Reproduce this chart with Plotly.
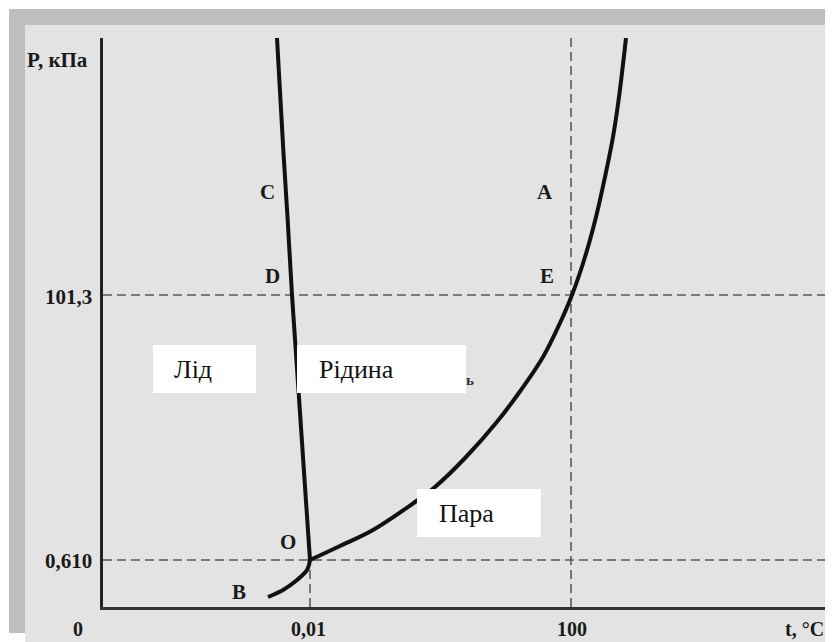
import plotly.graph_objects as go

# Schematic coordinates (axis units; origin at the axes corner)
x_tick_pos = [0, 207, 468]
x_tick_text = ["0", "0,01", "100"]
y_tick_pos = [47, 312]
y_tick_text = ["0,610", "101,3"]

# Melting curve O -> C (ice / liquid)
melt_x = [207, 201, 195, 189, 184.5, 180.3, 174]
melt_y = [47, 135, 224, 312, 390, 457, 569]

# Vaporisation curve O -> A (liquid / vapour)
vap_x = [207, 237, 270, 312, 332, 363, 393, 418, 440, 457, 469, 482, 493, 502, 510, 516, 523]
vap_y = [47, 61, 77, 105, 120, 150, 184, 217, 250, 284, 312, 350, 390, 430, 470, 510, 569]

# Sublimation curve B -> O (ice / vapour)
sub_x = [165, 180, 194, 204, 207]
sub_y = [10, 17, 27, 37, 47]

# Point letters
pt_labels = ["C", "D", "A", "E", "O", "B"]
pt_x = [164, 169, 442, 444, 185, 136]
pt_y = [415, 331, 415, 331, 65, 15]

# Phase region labels
phase_labels = ["Лід", "Рідина", "Пара"]

X_MAX, Y_MAX = 730, 569

# page offset (browser body margin) compensation
OFF = 8
L, T, W, H = 103, 38, 730, 569      # plot area in window pixels
FIG_W, FIG_H = 833 - OFF, 642 - OFF


def px(xp):
    return (xp - L) / W


def py(yp):
    return (T + H - yp) / H


fig = go.Figure()

dash_style = dict(color="#5a5a5a", width=1.6, dash="9px,5px")
fig.add_trace(go.Scatter(x=[0, X_MAX], y=[y_tick_pos[1]] * 2, mode="lines", line=dash_style))
fig.add_trace(go.Scatter(x=[0, X_MAX], y=[y_tick_pos[0]] * 2, mode="lines", line=dash_style))
fig.add_trace(go.Scatter(x=[x_tick_pos[1]] * 2, y=[0, y_tick_pos[0]], mode="lines", line=dash_style))
fig.add_trace(go.Scatter(x=[x_tick_pos[2]] * 2, y=[0, Y_MAX], mode="lines", line=dash_style))

curve_style = dict(color="#111111", width=4, shape="spline", smoothing=1.0)
fig.add_trace(go.Scatter(x=melt_x, y=melt_y, mode="lines", line=curve_style))
fig.add_trace(go.Scatter(x=vap_x, y=vap_y, mode="lines", line=curve_style))
fig.add_trace(go.Scatter(x=sub_x, y=sub_y, mode="lines", line=curve_style))

shapes = [
    dict(type="rect", xref="paper", yref="paper", x0=px(9), x1=px(826), y0=py(633), y1=py(9),
         fillcolor="#bebebe", line=dict(width=0), layer="below"),
    dict(type="rect", xref="paper", yref="paper", x0=px(25), x1=px(845), y0=py(650), y1=py(25),
         fillcolor="#e3e3e3", line=dict(width=0), layer="below"),
    dict(type="rect", xref="x", yref="y", x0=50, x1=153, y0=214, y1=262,
         fillcolor="white", line=dict(width=0), layer="above"),
    dict(type="rect", xref="x", yref="y", x0=194, x1=363, y0=214, y1=262,
         fillcolor="white", line=dict(width=0), layer="above"),
    dict(type="rect", xref="x", yref="y", x0=314, x1=438, y0=70, y1=118,
         fillcolor="white", line=dict(width=0), layer="above"),
]

SERIF = "Liberation Serif, Times New Roman, DejaVu Serif, serif"
ann = []
bold_font = dict(family=SERIF, size=21, color="#1a1a1a")
tick_font = dict(family=SERIF, size=20, color="#1a1a1a")
for t, x, y in zip(pt_labels, pt_x, pt_y):
    ann.append(dict(x=x, y=y, text=f"<b>{t}</b>", showarrow=False, font=bold_font,
                    xanchor="center", yanchor="middle"))
# axis tick labels (paper refs, placed outside the plot area)
for t, xp in zip(x_tick_text, [78, 308, 572]):
    ann.append(dict(xref="paper", yref="paper", x=px(xp), y=py(641), text=f"<b>{t}</b>",
                    showarrow=False, font=tick_font, xanchor="center", yanchor="bottom",
                    borderpad=0))
for t, yp in zip(y_tick_text, [561, 297]):
    ann.append(dict(xref="paper", yref="paper", x=px(94), y=py(yp), text=f"<b>{t}</b>",
                    showarrow=False, font=bold_font, xanchor="right", yanchor="middle"))
ann.append(dict(xref="paper", yref="paper", x=px(784), y=py(641), text="<b>t, °C</b>",
                showarrow=False, font=tick_font, xanchor="left", yanchor="bottom",
                borderpad=0))
ann.append(dict(xref="paper", yref="paper", x=px(25), y=py(60), text="<b>P, кПа</b>",
                showarrow=False, font=bold_font, xanchor="left", yanchor="middle"))
ann.append(dict(x=367, y=227, text="<b>ь</b>", showarrow=False,
                font=dict(family=SERIF, size=15, color="#333333"),
                xanchor="center", yanchor="middle"))
phase_font = dict(family=SERIF, size=26, color="#111111")
for t, x, y in zip(phase_labels, [69, 214, 334], [238, 238, 94]):
    ann.append(dict(x=x, y=y, text=t, showarrow=False, font=phase_font,
                    xanchor="left", yanchor="middle"))

fig.update_layout(
    width=FIG_W, height=FIG_H, autosize=False,
    margin=dict(l=L - OFF, r=0, t=T - OFF, b=FIG_H - (T - OFF) - H),
    paper_bgcolor="white", plot_bgcolor="rgba(0,0,0,0)",
    showlegend=False, hovermode=False,
    shapes=shapes, annotations=ann,
    xaxis=dict(range=[0, X_MAX], showgrid=False, zeroline=False, showticklabels=False,
               ticks="", showline=True, linecolor="#333333", linewidth=2.5),
    yaxis=dict(range=[0, Y_MAX], showgrid=False, zeroline=False, showticklabels=False,
               ticks="", showline=True, linecolor="#222222", linewidth=2.5),
)

fig.write_html("out.html")
